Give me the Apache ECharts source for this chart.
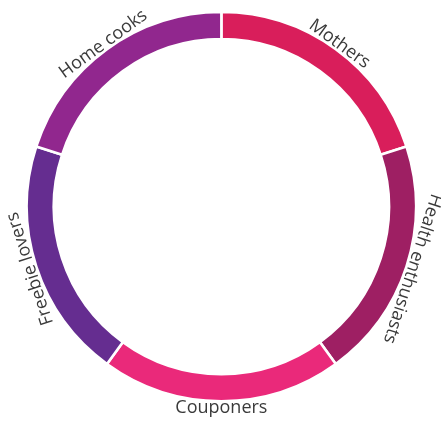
<!DOCTYPE html>
<html><head><meta charset="utf-8">
<script src="https://cdn.jsdelivr.net/npm/echarts@6/dist/echarts.min.js"></script>
<style>html,body{margin:0;padding:0;background:#fff}#c{width:441px;height:426px}</style>
</head><body><div id="c"></div>
<script>
var categories = ['Mothers', 'Health enthusiasts', 'Couponers', 'Freebie lovers', 'Home cooks'];
var values = [1, 1, 1, 1, 1];
var colors = ['#d91e5b', '#9e1f63', '#ea297a', '#652d90', '#91278e'];
var labelRotations = [-36, -108, 0, 108, 36];

var chart = echarts.init(document.getElementById('c'), null, {renderer: 'canvas'});
var center = ['50.2%', 206.6];
chart.setOption({
  animation: false,
  series: [
    {
      type: 'pie',
      center: center,
      radius: [167.5, 194.6],
      startAngle: 90,
      clockwise: true,
      silent: true,
      label: {show: false},
      labelLine: {show: false},
      itemStyle: {borderColor: '#fff', borderWidth: 2.6},
      data: categories.map(function (c, i) {
        return {name: c, value: values[i], itemStyle: {color: colors[i]}};
      })
    },
    {
      type: 'pie',
      center: center,
      radius: [192, 204],
      startAngle: 90,
      clockwise: true,
      silent: true,
      labelLine: {show: false},
      itemStyle: {color: 'rgba(0,0,0,0)'},
      label: {
        show: true,
        position: 'inside',
        fontFamily: 'Open Sans',
        fontSize: 18,
        color: '#3a3a3a'
      },
      data: categories.map(function (c, i) {
        return {name: c, value: values[i], label: {rotate: labelRotations[i]}};
      })
    }
  ]
});
</script></body></html>
